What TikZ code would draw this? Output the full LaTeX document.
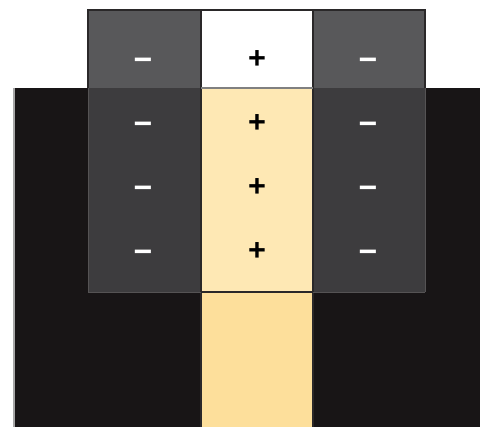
\documentclass[tikz,border=0pt]{standalone}
\usepackage{fontspec}
\setmainfont{Liberation Sans}
\definecolor{blk}{HTML}{181516}
\definecolor{gtop}{HTML}{58585A}
\definecolor{gmid}{HTML}{3D3C3E}
\definecolor{ylo}{HTML}{FEE8B4}
\definecolor{yhi}{HTML}{FDDF9B}
\definecolor{edge}{HTML}{2A2829}
\begin{document}
\begin{tikzpicture}[x=0.75pt,y=-0.75pt,
  cell/.style={draw=edge,line width=0.9pt},
  negsign/.style={text=white,inner sep=0pt,font=\fontsize{24}{24}\selectfont\bfseries},
  possign/.style={text=black,inner sep=0pt,font=\fontsize{23}{23}\selectfont\bfseries}]
\useasboundingbox (0,0) rectangle (480,427);
% black substrate
\fill[blk] (14,88) rectangle (480,427);
\draw[gray!70,line width=0.8pt] (14,88) -- (14,427);
% top row
\fill[gtop] (88,10) rectangle (201,88);
\fill[white] (201,10) rectangle (313,88);
\fill[gtop] (313,10) rectangle (425,88);
% middle region
\fill[gmid] (88,88) rectangle (201,292);
\fill[ylo] (201,88) rectangle (313,292);
\fill[gmid] (313,88) rectangle (425,292);
% bottom yellow
\fill[yhi] (201,292) rectangle (313,427);
% outlines
\draw[cell] (88,88) -- (88,10) -- (425,10) -- (425,88);
\draw[cell] (201,10) -- (201,427);
\draw[cell] (313,10) -- (313,427);
\draw[gray,line width=0.8pt] (201,88) -- (313,88);
\draw[cell] (201,292) -- (313,292);
\draw[edge!80,line width=0.6pt] (88,292) -- (201,292) (313,292) -- (425,292) (88,88) -- (88,292) (425,88) -- (425,292);
% signs
\foreach \r/\y in {1/58,2/122,3/186,4/250}{
  \node[negsign] (l\r) at (143,\y+6) {−};
  \node[possign] (c\r) at (257,\y+2) {+};
  \node[negsign] (r\r) at (368,\y+6) {−};
}
\end{tikzpicture}
\end{document}
